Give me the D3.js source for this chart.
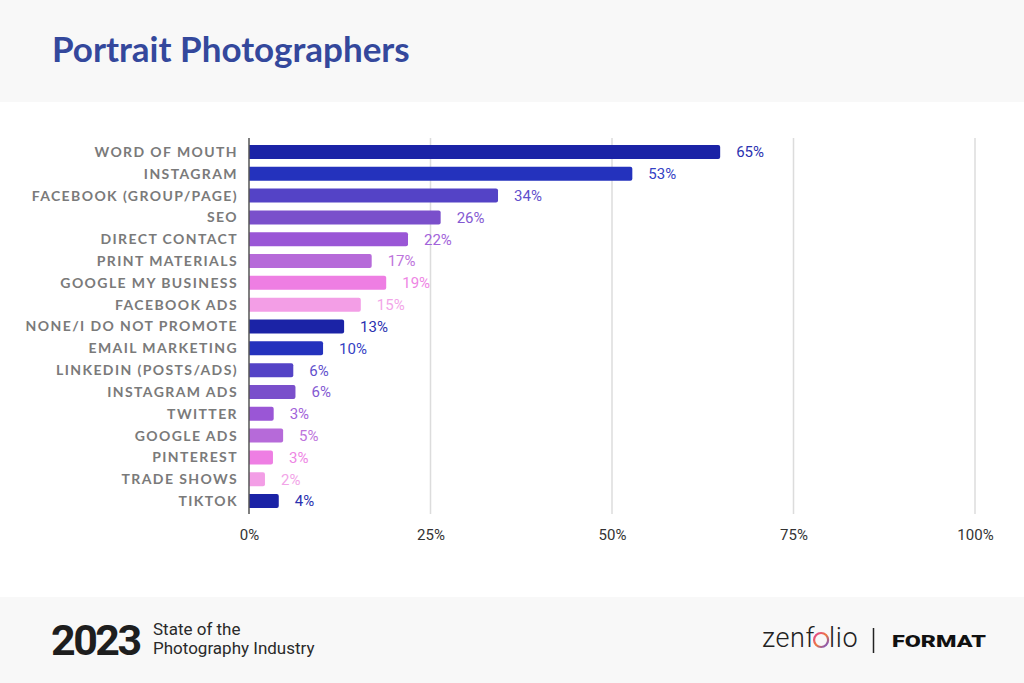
<!DOCTYPE html>
<html>
<head>
<meta charset="utf-8">
<script src="https://cdn.jsdelivr.net/npm/d3@7"></script>
<style>
  html, body { margin: 0; padding: 0; background: #fff; }
  svg { display: block; }
</style>
</head>
<body>
<div id="chart"></div>
<script>
// ---------------------------------------------------------------------------
// Data
// ---------------------------------------------------------------------------
const categories = [
  'WORD OF MOUTH', 'INSTAGRAM', 'FACEBOOK (GROUP/PAGE)', 'SEO', 'DIRECT CONTACT',
  'PRINT MATERIALS', 'GOOGLE MY BUSINESS', 'FACEBOOK ADS', 'NONE/I DO NOT PROMOTE',
  'EMAIL MARKETING', 'LINKEDIN (POSTS/ADS)', 'INSTAGRAM ADS', 'TWITTER', 'GOOGLE ADS',
  'PINTEREST', 'TRADE SHOWS', 'TIKTOK'
];
// bar lengths (percent)
const values = [64.9, 52.8, 34.3, 26.4, 21.9, 16.9, 18.9, 15.4, 13.1, 10.2, 6.1, 6.4, 3.4, 4.7, 3.3, 2.2, 4.1];
// printed labels
const shown = [65, 53, 34, 26, 22, 17, 19, 15, 13, 10, 6, 6, 3, 5, 3, 2, 4];
const ticks = [0, 25, 50, 75, 100];
const palette = ['#1b23a6', '#2432bd', '#5443c6', '#7a4fcb', '#9a56d6', '#b66ad9', '#ee7ee3', '#f39ee6'];
const labelColors = ['#2a31b0', '#3441c4', '#5f4fcc', '#8459d2', '#a263da', '#bd74dc', '#ee86e4', '#f2a5e8'];

// ---------------------------------------------------------------------------
// Layout
// ---------------------------------------------------------------------------
const W = 1024, H = 683;
const svg = d3.select('#chart').append('svg')
  .attr('width', W).attr('height', H);

// header & footer bands
svg.append('rect').attr('x', 0).attr('y', 0).attr('width', W).attr('height', 102).attr('fill', '#f8f8f8');
svg.append('rect').attr('x', 0).attr('y', 597).attr('width', W).attr('height', H - 597).attr('fill', '#f8f8f8');

svg.append('text')
  .attr('x', 52).attr('y', 62)
  .attr('font-family', 'Lato, "Noto Sans", sans-serif')
  .attr('font-weight', 700)
  .attr('font-size', 35)
  .attr('fill', '#34489c')
  .text('Portrait Photographers');

const x = d3.scaleLinear().domain([0, 100]).range([249, 975]);
const y = d3.scaleBand().domain(categories).range([138, 515]).paddingInner(0.358).paddingOuter(0.32);

// grid
svg.append('g').selectAll('line')
  .data(ticks.slice(1))
  .join('line')
  .attr('x1', d => x(d)).attr('x2', d => x(d))
  .attr('y1', 138).attr('y2', 514)
  .attr('stroke', '#dcdcdc').attr('stroke-width', 1.5);

// x axis tick labels
const xAxis = svg.append('g')
  .attr('transform', 'translate(0,526)')
  .call(d3.axisBottom(x).tickValues(ticks).tickFormat(d => d + '%').tickSize(0));
xAxis.select('.domain').remove();
xAxis.selectAll('text')
  .attr('font-family', 'Roboto, sans-serif')
  .attr('font-size', 15)
  .attr('fill', '#333');

// bars
svg.append('g').selectAll('path')
  .data(categories)
  .join('path')
  .attr('d', (c, i) => {
    const x0 = x(0), x1 = x(values[i]), y0 = y(c), h = y.bandwidth(), r = 2;
    return `M${x0},${y0}H${x1 - r}Q${x1},${y0} ${x1},${y0 + r}V${y0 + h - r}Q${x1},${y0 + h} ${x1 - r},${y0 + h}H${x0}Z`;
  })
  .attr('fill', (c, i) => palette[i % palette.length]);

// value labels
svg.append('g').selectAll('text')
  .data(categories)
  .join('text')
  .attr('x', (c, i) => x(values[i]) + 16)
  .attr('y', c => y(c) + y.bandwidth() / 2)
  .attr('dy', '0.36em')
  .attr('font-family', 'Roboto, sans-serif')
  .attr('font-size', 15)
  .attr('fill', (c, i) => labelColors[i % labelColors.length])
  .text((c, i) => shown[i] + '%');

// category labels
const yAxis = svg.append('g')
  .attr('transform', 'translate(238,0.5)')
  .call(d3.axisLeft(y).tickSize(0).tickPadding(0));
yAxis.select('.domain').remove();
yAxis.selectAll('text')
  .attr('font-family', 'Lato, "Noto Sans", sans-serif')
  .attr('font-weight', 700)
  .attr('font-size', 14)
  .attr('letter-spacing', '1.4px')
  .attr('fill', '#7a7a7a');

// left axis line
svg.append('line')
  .attr('x1', x(0)).attr('x2', x(0))
  .attr('y1', 138).attr('y2', 514)
  .attr('stroke', '#555').attr('stroke-width', 1.5);

// ---------------------------------------------------------------------------
// Footer
// ---------------------------------------------------------------------------
svg.append('text')
  .attr('x', 51).attr('y', 655)
  .attr('font-family', 'Roboto, sans-serif')
  .attr('font-weight', 700)
  .attr('font-size', 43)
  .attr('letter-spacing', '-2.5px')
  .attr('fill', '#1e1e1e')
  .text('2023');

const sub = svg.append('text')
  .attr('font-family', 'Roboto, sans-serif')
  .attr('font-size', 17)
  .attr('fill', '#2a2a2a');
sub.append('tspan').attr('x', 153).attr('y', 635).text('State of the');
sub.append('tspan').attr('x', 153).attr('y', 654).text('Photography Industry');

// zenfolio wordmark
const defs = svg.append('defs');
const grad = defs.append('linearGradient').attr('id', 'ring').attr('x1', 0).attr('y1', 0).attr('x2', 1).attr('y2', 1);
grad.append('stop').attr('offset', '0%').attr('stop-color', '#e0409a');
grad.append('stop').attr('offset', '50%').attr('stop-color', '#f07a3c');
grad.append('stop').attr('offset', '100%').attr('stop-color', '#6a4fd8');

const zenStyle = t => t
  .attr('font-family', 'Roboto, sans-serif')
  .attr('font-weight', 300)
  .attr('font-size', 27)
  .attr('letter-spacing', '0.6px')
  .attr('fill', '#222');
const z1 = svg.append('text').attr('x', 762).attr('y', 647).call(zenStyle).text('zenf');
const w1 = z1.node().getComputedTextLength();
svg.append('circle')
  .attr('cx', 762 + w1 + 6).attr('cy', 640).attr('r', 7)
  .attr('fill', 'none').attr('stroke', 'url(#ring)').attr('stroke-width', 2.2);
svg.append('text').attr('x', 762 + w1 + 14).attr('y', 647).call(zenStyle).text('lio');

svg.append('line')
  .attr('x1', 873.5).attr('x2', 873.5).attr('y1', 628).attr('y2', 653)
  .attr('stroke', '#222').attr('stroke-width', 1.5);

const fmt = svg.append('text')
  .attr('font-family', 'Roboto, sans-serif')
  .attr('font-weight', 900)
  .attr('font-size', 17)
  .attr('fill', '#111')
  .text('FORMAT');
const fw = fmt.node().getComputedTextLength();
fmt.attr('transform', `translate(892,647) scale(${94 / fw},1)`);
</script>
</body>
</html>
